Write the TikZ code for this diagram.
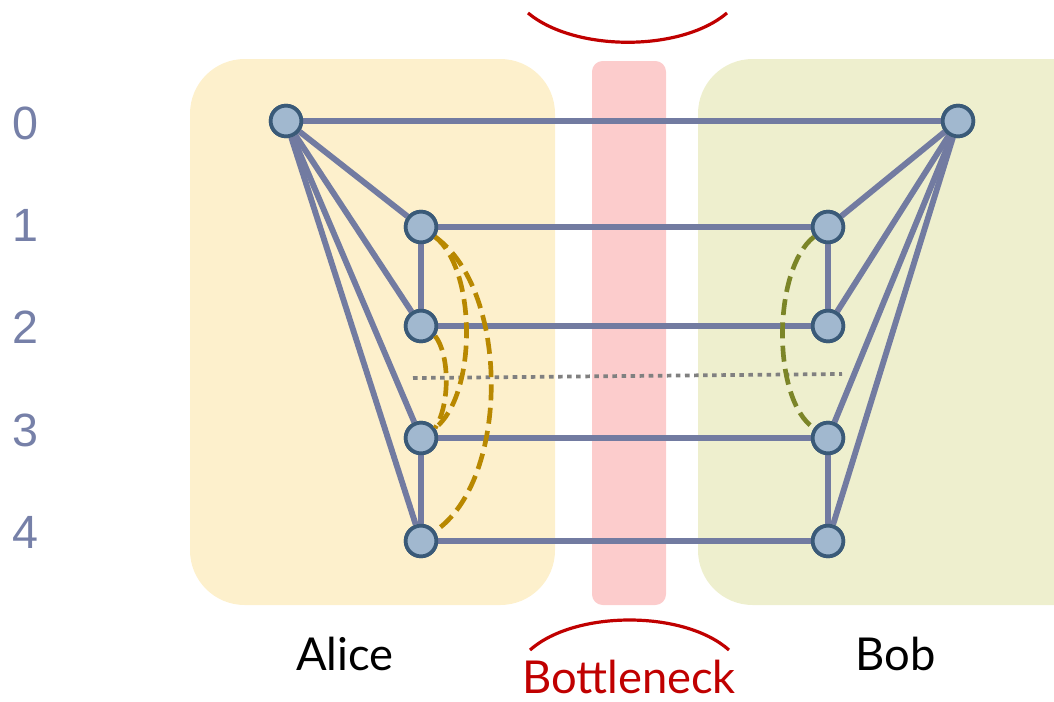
\documentclass[tikz,border=0pt]{standalone}
\usepackage{fontspec}
\setmainfont{Liberation Sans}
\newfontfamily\namefont{Lato}
\usepackage{tikz}
\definecolor{alicebg}{RGB}{253,240,204}
\definecolor{bobbg}{RGB}{238,239,206}
\definecolor{neckbg}{RGB}{252,204,204}
\definecolor{edgeblue}{RGB}{114,123,161}
\definecolor{nodefill}{RGB}{161,184,207}
\definecolor{nodeline}{RGB}{58,90,120}
\definecolor{rowgrey}{RGB}{118,128,168}
\definecolor{alicegold}{RGB}{184,136,0}
\definecolor{bobolive}{RGB}{123,133,40}
\definecolor{neckred}{RGB}{192,0,0}

\begin{document}
\begin{tikzpicture}[x=0.75pt, y=-0.75pt]
    \tikzstyle{party} = [circle, draw=nodeline, fill=nodefill, line width=2.8pt,
        minimum size=23pt, inner sep=0pt]
    \tikzstyle{link} = [draw=edgeblue, line width=4.4pt]
    \tikzstyle{rowlabel} = [text=rowgrey, font=\fontsize{35}{40}\selectfont, inner sep=0pt]
    \tikzstyle{who} = [anchor=base, inner sep=0pt, font=\namefont\fontsize{34}{40}\selectfont]
    \tikzstyle{guess} = [line width=3.5pt, dash pattern=on 12pt off 5.5pt]

    \useasboundingbox (0,0) rectangle (1054,701);

    % the two sides and the bottleneck
    \fill[alicebg, rounded corners=41pt] (190,59) rectangle (555,605);
    \fill[bobbg, rounded corners=41pt] (698,59) rectangle (1110,605);
    \fill[neckbg, rounded corners=8pt] (592,61) rectangle (666,605);

    % row numbers
    \foreach \r/\y in {0/123, 1/225, 2/327, 3/430, 4/532}
        \node[rowlabel] (row\r) at (25,\y) {\r};

    % players
    \node[party] (A0) at (286,121) {};
    \node[party] (A1) at (421,227) {};
    \node[party] (A2) at (421,326) {};
    \node[party] (A3) at (421,438) {};
    \node[party] (A4) at (421,541) {};
    \node[party] (B0) at (958,121) {};
    \node[party] (B1) at (828,227) {};
    \node[party] (B2) at (828,326) {};
    \node[party] (B3) at (828,438) {};
    \node[party] (B4) at (828,541) {};

    % links
    \foreach \i in {0,...,4}
        \draw[link] (A\i) -- (B\i);
    \foreach \i in {1,...,4} {
        \draw[link] (A0) -- (A\i);
        \draw[link] (B0) -- (B\i);
    }
    \draw[link] (A1) -- (A2);
    \draw[link] (A3) -- (A4);
    \draw[link] (B1) -- (B2);
    \draw[link] (B3) -- (B4);

    % redraw players on top of the links
    \foreach \n in {A0,A1,A2,A3,A4,B0,B1,B2,B3,B4}
        \node[party] at (\n) {};

    % cut
    \coordinate (cutL) at (413,378);
    \coordinate (cutR) at (842,374);
    \draw[gray, line width=2.8pt, dash pattern=on 3.4pt off 3.4pt] (cutL) -- (cutR);

    % dashed curves
    \draw[guess, alicegold] (A1.-35) .. controls (510,290) and (510,480) .. (A4.35);
    \draw[guess, alicegold] (A1.-35) .. controls (477,270) and (477,395) .. (A3.35);
    \draw[guess, alicegold] (A2.-35) .. controls (450,355) and (450,405) .. (A3.35);
    \draw[guess, bobolive] (B1.-145) .. controls (772,270) and (772,400) .. (B3.145);

    % names
    \node[who] (alice) at (345,670) {Alice};
    \node[who] (bob) at (896,670) {Bob};
    \node[who, text=neckred] (neck) at (629,693) {Bottleneck};

    % brackets round the bottleneck
    \draw[neckred, line width=2.4pt] (528,13) .. controls (575,52) and (681,52) .. (727,13);
    \draw[neckred, line width=2.4pt] (530,650) .. controls (575,610) and (684,610) .. (729,650);
\end{tikzpicture}
\end{document}
